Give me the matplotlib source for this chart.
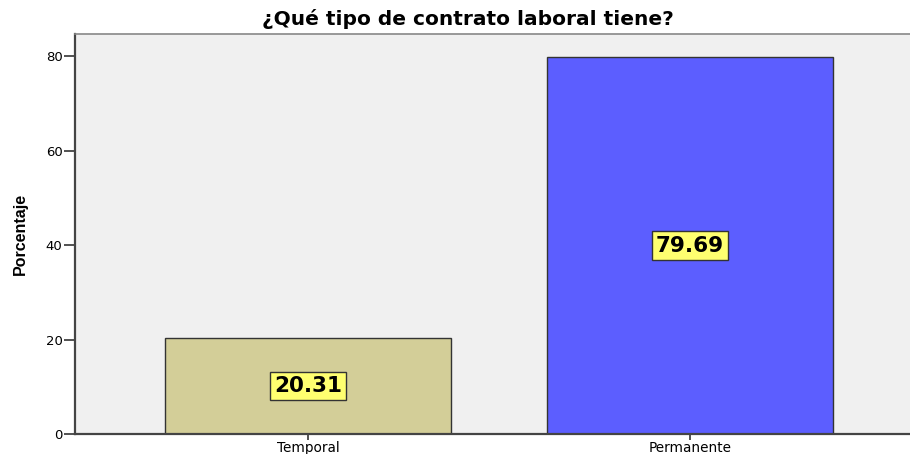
import matplotlib
matplotlib.use("Agg")
import matplotlib.pyplot as plt

categories = ["Temporal", "Permanente"]
values = [20.31, 79.69]
colors = ["#D3CE98", "#5C5EFF"]
yticks = [0, 20, 40, 60, 80]

fig = plt.figure(figsize=(9.1, 4.54), dpi=100)
fig.patch.set_facecolor("white")
ax = fig.add_axes([75/910, 20/454, (923-75)/910, 400/454])
ax.set_facecolor("#F0F0F0")

x = list(range(len(categories)))
ax.bar(x, values, width=0.751, color=colors, edgecolor="#333333", linewidth=1.0, zorder=2)
for xi, v in zip(x, values):
    ax.text(xi, v/2, f"{v:.2f}", ha="center", va="center", fontsize=15.5, fontweight="bold",
            family="DejaVu Sans", color="black", zorder=3,
            bbox=dict(boxstyle="square,pad=0.2", facecolor="#FFFF70", edgecolor="#333333", linewidth=1.0))

ax.set_xlim(-0.61, 1.61)
ax.set_ylim(0, 84.66)
ax.set_xticks(x)
ax.set_xticklabels(categories, family="DejaVu Sans", fontsize=9.8)
ax.set_yticks(yticks)
ax.set_yticklabels([str(t) for t in yticks], family="DejaVu Sans", fontsize=9.5)
ax.tick_params(axis="y", length=8, width=1.2, color="#333333", pad=1)
ax.tick_params(axis="x", length=4, width=1.2, color="#333333", pad=1)

for s in ["left", "bottom"]:
    ax.spines[s].set_color("#444444")
    ax.spines[s].set_linewidth(1.6)
ax.spines["top"].set_color("#888888")
ax.spines["top"].set_linewidth(1.2)
ax.spines["right"].set_visible(False)

fig.text(20/910, 1 - 234/454, "Porcentaje", rotation=90, ha="center", va="center",
         family="Liberation Sans", fontweight="bold", fontsize=11.5)
fig.text(468/910, 1 - 19/454, "¿Qué tipo de contrato laboral tiene?", ha="center", va="center",
         family="DejaVu Sans", fontweight="bold", fontsize=14.5)

fig.savefig("out.png", dpi=100)
